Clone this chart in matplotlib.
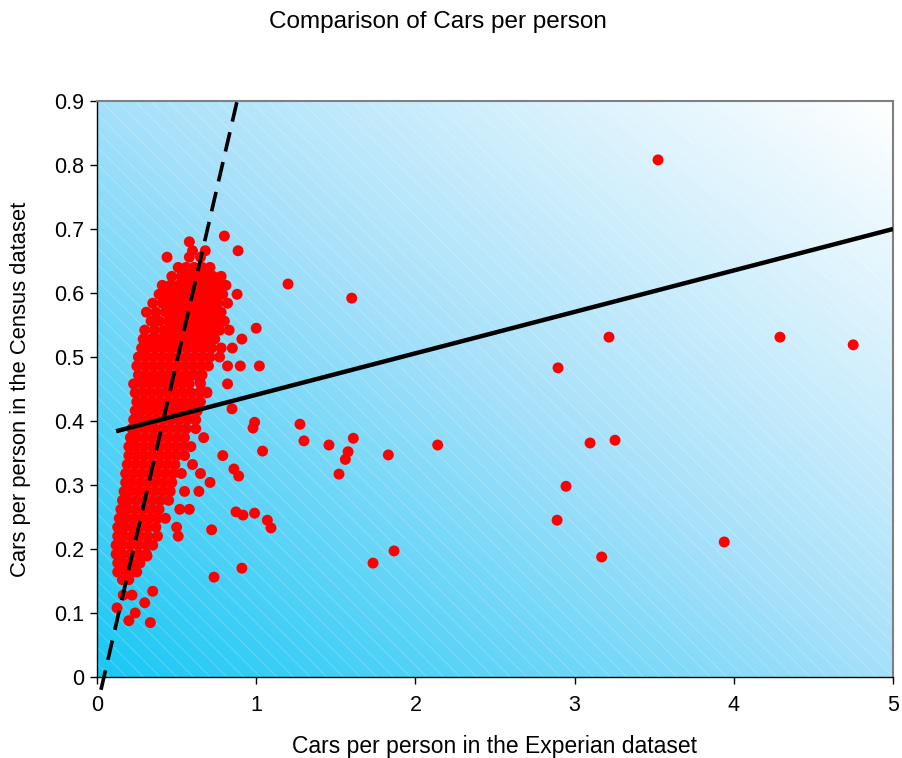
import numpy as np
import matplotlib
matplotlib.use("Agg")
import matplotlib.pyplot as plt
from matplotlib.colors import LinearSegmentedColormap
from matplotlib.patches import Rectangle

plt.rcParams['font.family'] = ['Liberation Sans', 'DejaVu Sans']

title = "Comparison of Cars per person"
xlabel = "Cars per person in the Experian dataset"
ylabel = "Cars per person in the Census dataset"
xticks = [0, 1, 2, 3, 4, 5]
yticks = [0, 0.1, 0.2, 0.3, 0.4, 0.5, 0.6, 0.7, 0.8, 0.9]
ytick_labels = ["0", "0.1", "0.2", "0.3", "0.4", "0.5", "0.6", "0.7", "0.8", "0.9"]

# Dense cluster, read row by row: (census value, [experian values])
cluster_rows = [
    (0.680, [0.58]),
    (0.666, [0.60, 0.68]),
    (0.656, [0.44, 0.58, 0.65]),
    (0.640, [0.51, 0.56, 0.61, 0.66, 0.71]),
    (0.626, [0.47, 0.53, 0.58, 0.63, 0.68, 0.73, 0.78]),
    (0.612, [0.41, 0.46, 0.51, 0.56, 0.61, 0.66, 0.71, 0.76, 0.81]),
    (0.598, [0.39, 0.44, 0.49, 0.54, 0.59, 0.64, 0.69, 0.74, 0.79, 0.88]),
    (0.584, [0.35, 0.41, 0.46, 0.51, 0.56, 0.61, 0.66, 0.71, 0.76, 0.82]),
    (0.570, [0.31, 0.37, 0.43, 0.48, 0.53, 0.58, 0.63, 0.68, 0.73, 0.78]),
    (0.556, [0.34, 0.39, 0.45, 0.50, 0.55, 0.60, 0.65, 0.70, 0.75, 0.80]),
    (0.542, [0.30, 0.36, 0.42, 0.47, 0.52, 0.57, 0.62, 0.67, 0.72, 0.77, 0.83]),
    (0.528, [0.29, 0.34, 0.39, 0.44, 0.49, 0.54, 0.59, 0.64, 0.69, 0.74, 0.91]),
    (0.514, [0.28, 0.32, 0.37, 0.42, 0.47, 0.52, 0.57, 0.62, 0.67, 0.72, 0.78, 0.85]),
    (0.500, [0.26, 0.31, 0.36, 0.41, 0.46, 0.51, 0.56, 0.61, 0.66, 0.71, 0.77]),
    (0.486, [0.25, 0.30, 0.35, 0.40, 0.45, 0.50, 0.55, 0.60, 0.65, 0.70, 0.82, 0.90]),
    (0.472, [0.26, 0.31, 0.36, 0.41, 0.46, 0.51, 0.56, 0.61, 0.66]),
    (0.458, [0.23, 0.28, 0.33, 0.38, 0.43, 0.48, 0.53, 0.58, 0.65, 0.82]),
    (0.444, [0.24, 0.29, 0.34, 0.39, 0.44, 0.49, 0.54, 0.59, 0.64, 0.69]),
    (0.430, [0.25, 0.30, 0.35, 0.40, 0.45, 0.50, 0.55, 0.60, 0.65]),
    (0.416, [0.24, 0.28, 0.33, 0.38, 0.43, 0.48, 0.53, 0.58, 0.63]),
    (0.402, [0.23, 0.27, 0.32, 0.37, 0.42, 0.47, 0.52, 0.57, 0.62]),
    (0.388, [0.22, 0.26, 0.31, 0.36, 0.41, 0.46, 0.51, 0.56, 0.62]),
    (0.374, [0.21, 0.25, 0.30, 0.35, 0.40, 0.45, 0.50, 0.55, 0.67]),
    (0.360, [0.20, 0.24, 0.29, 0.34, 0.39, 0.44, 0.49, 0.54, 0.59]),
    (0.346, [0.20, 0.25, 0.30, 0.35, 0.40, 0.45, 0.50, 0.55, 0.79]),
    (0.332, [0.19, 0.24, 0.29, 0.34, 0.39, 0.44, 0.49, 0.60]),
    (0.318, [0.18, 0.23, 0.28, 0.33, 0.38, 0.43, 0.48, 0.53, 0.65]),
    (0.304, [0.18, 0.22, 0.27, 0.32, 0.37, 0.42, 0.47, 0.71]),
    (0.290, [0.17, 0.21, 0.26, 0.31, 0.36, 0.41, 0.46, 0.55, 0.64]),
    (0.276, [0.16, 0.20, 0.25, 0.30, 0.35, 0.40, 0.45]),
    (0.262, [0.15, 0.19, 0.24, 0.29, 0.34, 0.39, 0.52, 0.58]),
    (0.248, [0.14, 0.18, 0.23, 0.28, 0.33, 0.38, 0.43]),
    (0.234, [0.13, 0.17, 0.22, 0.27, 0.32, 0.37, 0.50]),
    (0.220, [0.13, 0.17, 0.22, 0.27, 0.32, 0.38, 0.51]),
    (0.206, [0.12, 0.16, 0.21, 0.26, 0.31, 0.35]),
    (0.192, [0.12, 0.16, 0.21, 0.26, 0.31]),
    (0.178, [0.13, 0.17, 0.22, 0.27]),
    (0.164, [0.13, 0.17, 0.22, 0.25]),
    (0.152, [0.16, 0.20]),
]

# Scattered points away from the cluster
outlier_x = [3.524, 0.80, 0.886, 1.20, 1.60, 1.00, 1.02, 3.216, 4.29, 4.75,
             2.896, 0.848, 0.99, 0.98, 1.275, 1.30, 1.04, 1.457, 1.61, 1.577,
             1.56, 1.83, 2.14, 1.52, 3.097, 3.254, 2.946, 2.89, 3.94, 3.17,
             1.866, 1.734, 0.91, 0.735, 0.873, 0.917, 0.99, 1.07, 1.093, 0.72,
             0.89, 0.86, 0.647, 0.69, 0.314, 0.165, 0.22, 0.24, 0.20, 0.30,
             0.35, 0.126, 0.335]
outlier_y = [0.808, 0.689, 0.666, 0.614, 0.592, 0.545, 0.486, 0.531, 0.531, 0.519,
             0.483, 0.419, 0.398, 0.389, 0.395, 0.369, 0.353, 0.3625, 0.373, 0.352,
             0.340, 0.347, 0.3625, 0.317, 0.3656, 0.370, 0.298, 0.245, 0.211, 0.1875,
             0.197, 0.178, 0.170, 0.156, 0.258, 0.253, 0.256, 0.245, 0.233, 0.230,
             0.314, 0.325, 0.461, 0.445, 0.189, 0.128, 0.128, 0.100, 0.088, 0.116,
             0.134, 0.108, 0.085]

# Trend lines
solid_x = [0.12, 5.0]
solid_y = [0.384, 0.700]
dash_x = [0.025, 0.88]
dash_y = [-0.02, 0.90]

cx, cy = [], []
for yv, xs in cluster_rows:
    for xv in xs:
        cx.append(xv)
        cy.append(yv)
all_x = np.array(cx + outlier_x)
all_y = np.array(cy + outlier_y)

fig = plt.figure(figsize=(9.02, 7.58), dpi=100)
fig.patch.set_facecolor('white')
ax = fig.add_axes([97 / 902, 1 - 677 / 758, (893 - 97) / 902, (677 - 101) / 758])

# Gradient background (bottom-left cyan -> top-right white)
cmap = LinearSegmentedColormap.from_list(
    'bg', [(0.0, (25 / 255, 200 / 255, 245 / 255)),
           (0.5, (165 / 255, 224 / 255, 250 / 255)),
           (1.0, (1.0, 1.0, 1.0))])
n = 400
gx, gy = np.meshgrid(np.linspace(0, 1, n), np.linspace(0, 1, n))
grad = (gx + gy) / 2.0
ax.imshow(grad, cmap=cmap, extent=[0, 5, 0, 0.9], origin='lower',
          aspect='auto', zorder=0, interpolation='bilinear')
plt.rcParams['hatch.linewidth'] = 0.6
ax.add_patch(Rectangle((0, 0), 1, 1, transform=ax.transAxes, facecolor='none',
                       edgecolor=(1, 1, 1, 0.25), hatch='\\\\', linewidth=0, zorder=0.5))

ax.scatter(all_x, all_y, s=62, c='#ff0000', edgecolors='none', zorder=2)

ax.plot(solid_x, solid_y, color='black', lw=3.2, zorder=3, solid_capstyle='butt')
ax.plot(dash_x, dash_y, color='black', lw=2.6, zorder=3, dashes=(5.5, 3),
        clip_on=False)

ax.set_xlim(0, 5)
ax.set_ylim(0, 0.9)
ax.set_xticks(xticks)
ax.set_xticklabels([str(t) for t in xticks])
ax.set_yticks(yticks)
ax.set_yticklabels(ytick_labels)
ax.tick_params(axis='both', direction='out', length=5, width=1, color='black',
               labelsize=15.5)
ax.tick_params(axis='x', pad=8)
ax.tick_params(axis='y', pad=4.5)
for s in ax.spines.values():
    s.set_color('#808080')
    s.set_linewidth(1.5)
ax.spines['left'].set_color('black')
ax.spines['bottom'].set_color('black')
ax.spines['left'].set_linewidth(1)
ax.spines['bottom'].set_linewidth(1)

ax.set_xlabel(xlabel, fontsize=16.5, va='center')
ax.set_ylabel(ylabel, fontsize=15.8, va='center')
ax.xaxis.set_label_coords(0.5, (677 - 746) / 576)
ax.yaxis.set_label_coords((21 - 97) / 796, 0.5)
fig.text(438 / 902, 1 - 22 / 758, title, fontsize=17.5, ha='center', va='center')

fig.savefig('out.png', dpi=100)
